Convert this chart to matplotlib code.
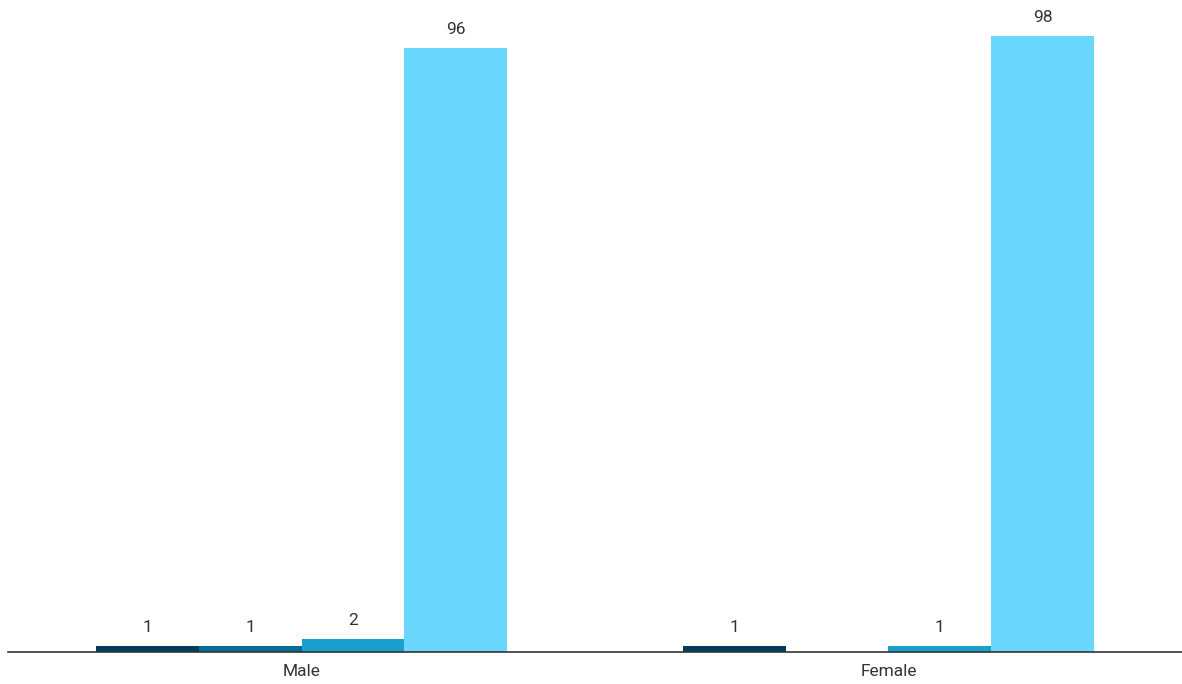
import numpy as np
import matplotlib.pyplot as plt

plt.rcParams["font.family"] = ["Roboto", "DejaVu Sans"]

categories = ["Male", "Female"]
series_1 = [1, 1]
series_2 = [1, np.nan]
series_3 = [2, 1]
series_4 = [96, 98]
colors = ["#003a5d", "#006f98", "#1aa0cc", "#6ad7ff"]

fig = plt.figure(figsize=(11.82, 6.84), dpi=100)
ax = fig.add_axes([8 / 1182, 32 / 684, 1 - 8 / 1182, (684 - 32 - 22) / 684])

x = np.arange(len(categories))
width = 0.175
all_series = [series_1, series_2, series_3, series_4]
for i, (vals, c) in enumerate(zip(all_series, colors)):
    offs = (i - 1.5) * width
    vals = np.array(vals, dtype=float)
    bars = ax.bar(x + offs, np.nan_to_num(vals), width, color=c)
    for b, v in zip(bars, vals):
        if np.isnan(v):
            b.set_visible(False)
            continue
        ax.annotate(f"{v:g}", (b.get_x() + b.get_width() / 2, v),
                    xytext=(0, 8), textcoords="offset points",
                    ha="center", va="bottom", fontsize=12.5, color="#333333")

ax.set_xlim(-0.5, 1.5)
ax.set_ylim(0, 100.2)
ax.set_xticks(x)
ax.set_xticklabels(categories, fontsize=12.5, color="#333333")
ax.tick_params(axis="x", length=0, pad=9)
ax.set_yticks([])
for s in ["top", "right", "left"]:
    ax.spines[s].set_visible(False)
ax.spines["bottom"].set_color("#333333")
ax.spines["bottom"].set_linewidth(1.2)

fig.savefig("out.png", dpi=100)
